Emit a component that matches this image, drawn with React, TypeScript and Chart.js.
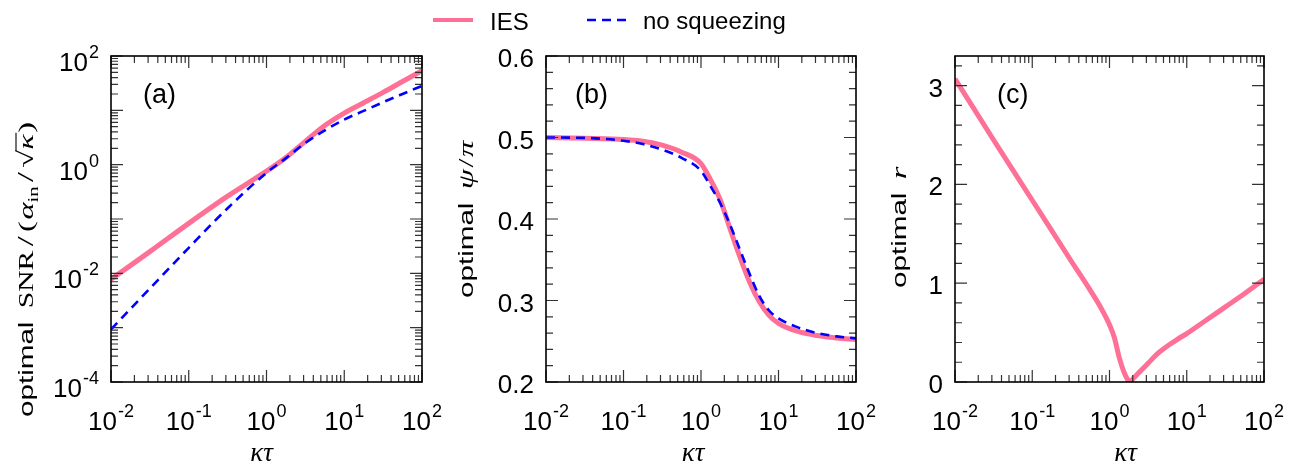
import React, { useEffect, useRef } from 'react';
import { Chart, registerables } from 'chart.js';

Chart.register(...registerables);

const W = 1314;
const H = 466;
const SANS = '"Liberation Sans", Arial, Helvetica, sans-serif';
const SERIF = '"Liberation Serif", "Times New Roman", serif';
const PINK = '#ff7096';
const BLUE = '#0000ff';

// ---------- Panel (a): optimal SNR ----------
const xA = [0.01, 0.0316, 0.1, 0.316, 1, 1.78, 3.16, 5.62, 10, 17.8, 31.6, 56.2, 100];
const snrIES = [0.00776, 0.0251, 0.0832, 0.263, 0.76, 1.35, 2.69, 5.25, 8.91, 13.8, 21.4, 33.9, 53.7];
const snrNoSq = [0.000933, 0.00525, 0.0295, 0.158, 0.708, 1.32, 2.51, 4.27, 6.76, 9.77, 14.1, 20.0, 28.2];

// ---------- Panel (b): optimal psi/pi ----------
const xB = [0.01, 0.0316, 0.1, 0.178, 0.316, 0.562, 1, 1.33, 1.78, 2.37, 3.16, 4.22, 5.62, 7.5, 10, 17.8, 31.6, 56.2, 100];
const psiIES = [0.5, 0.499, 0.4976, 0.4955, 0.4906, 0.482, 0.468, 0.448, 0.423, 0.388, 0.354, 0.323, 0.299, 0.282, 0.272, 0.262, 0.257, 0.254, 0.252];
const psiNoSq = [0.5, 0.4995, 0.496, 0.492, 0.485, 0.475, 0.459, 0.44, 0.419, 0.393, 0.363, 0.333, 0.306, 0.288, 0.278, 0.267, 0.26, 0.256, 0.2535];

// ---------- Panel (c): optimal r ----------
const xC = [0.01, 0.0316, 0.1, 0.316, 0.562, 0.75, 1, 1.155, 1.334, 1.54, 1.7, 1.81, 2.054, 2.371, 3.162, 4.217, 5.623, 7.499, 10, 17.78, 31.62, 56.23, 100];
const rIES = [3.07, 2.45, 1.84, 1.23, 0.93, 0.77, 0.58, 0.45, 0.25, 0.1, 0.03, 0.0, 0.04, 0.09, 0.19, 0.29, 0.365, 0.43, 0.49, 0.625, 0.76, 0.895, 1.04];

// ---------- tick labels / texts ----------
const xTickExps = [-2, -1, 0, 1, 2];
const yTickExpsA = [-4, -2, 0, 2];
const yTicksB = [0.2, 0.3, 0.4, 0.5, 0.6];
const yTicksC = [0, 1, 2, 3];
const legendLabels = ['IES', 'no squeezing'];
const panelLabels = ['(a)', '(b)', '(c)'];

const TITLE_SX = 1.48;

function drawPow(ctx: any, exp: number, x: number, y: number, align: string) {
  const baseFont = `26px ${SANS}`;
  const expFont = `18px ${SANS}`;
  const es = String(exp);
  ctx.font = baseFont;
  const wb = ctx.measureText('10').width;
  ctx.font = expFont;
  const we = ctx.measureText(es).width;
  const total = wb + 1 + we;
  const x0 = align === 'center' ? x - total / 2 : x - total;
  ctx.textAlign = 'left';
  ctx.textBaseline = 'alphabetic';
  ctx.fillStyle = '#000';
  ctx.font = baseFont;
  ctx.fillText('10', x0, y);
  ctx.font = expFont;
  ctx.fillText(es, x0 + wb + 1, y - 13);
}

function drawYTitle(ctx: any, pieces: any[], baseX: number, startY: number) {
  ctx.save();
  ctx.translate(baseX, startY);
  ctx.rotate(-Math.PI / 2);
  ctx.scale(TITLE_SX, 1);
  ctx.fillStyle = '#000';
  ctx.strokeStyle = '#000';
  ctx.textAlign = 'left';
  ctx.textBaseline = 'alphabetic';
  let cx = 0;
  for (const p of pieces) {
    cx += p.pre || 0;
    ctx.font = p.f;
    ctx.fillText(p.t, cx, p.dy || 0);
    const w = ctx.measureText(p.t).width;
    if (p.over) {
      ctx.lineWidth = 1.1;
      ctx.beginPath();
      ctx.moveTo(cx - 1, -p.over);
      ctx.lineTo(cx + w + 1, -p.over);
      ctx.stroke();
    }
    cx += w + (p.post || 0);
  }
  ctx.restore();
}

const framePlugin = {
  id: 'frame',
  afterDraw(chart: any, _args: any, o: any) {
    const ctx = chart.ctx;
    const { left, right, top, bottom } = chart.chartArea;
    const xs = chart.scales.x;
    const ys = chart.scales.y;
    const MAJ = 12;
    const MIN = 7;
    ctx.save();
    ctx.strokeStyle = '#333';
    ctx.lineWidth = 1.2;
    ctx.beginPath();
    const vTick = (px: number, len: number) => {
      ctx.moveTo(px, bottom);
      ctx.lineTo(px, bottom - len);
      ctx.moveTo(px, top);
      ctx.lineTo(px, top + len);
    };
    const hTick = (py: number, len: number) => {
      ctx.moveTo(left, py);
      ctx.lineTo(left + len, py);
      ctx.moveTo(right, py);
      ctx.lineTo(right - len, py);
    };
    for (let e = -2; e <= 2; e++) {
      const v = Math.pow(10, e);
      vTick(xs.getPixelForValue(v), MAJ);
      if (e < 2) for (let m = 2; m <= 9; m++) vTick(xs.getPixelForValue(m * v), MIN);
    }
    if (o.yLog) {
      for (let e = o.yExpMin; e <= o.yExpMax; e++) {
        const v = Math.pow(10, e);
        hTick(ys.getPixelForValue(v), MAJ);
        if (e < o.yExpMax) for (let m = 2; m <= 9; m++) hTick(ys.getPixelForValue(m * v), MIN);
      }
    } else {
      const n = Math.floor((o.yMax - o.yMin) / o.yMinor + 1e-9);
      for (let i = 0; i <= n; i++) {
        const v = o.yMin + i * o.yMinor;
        const r = v / o.yMajor;
        const isMaj = Math.abs(r - Math.round(r)) < 1e-6;
        hTick(ys.getPixelForValue(v), isMaj ? MAJ : MIN);
      }
    }
    ctx.stroke();

    // frame
    ctx.strokeStyle = '#000';
    ctx.lineWidth = 1.6;
    ctx.strokeRect(left, top, right - left, bottom - top);

    // x tick labels
    for (const e of xTickExps) {
      drawPow(ctx, e, xs.getPixelForValue(Math.pow(10, e)), bottom + 48, 'center');
    }
    // y tick labels
    if (o.yLog) {
      for (const e of o.yLabels) {
        const py = ys.getPixelForValue(Math.pow(10, e));
        drawPow(ctx, e, left - 12, py + 15, 'right');
      }
    } else {
      ctx.font = `26px ${SANS}`;
      ctx.fillStyle = '#000';
      ctx.textAlign = 'right';
      ctx.textBaseline = 'alphabetic';
      for (const v of o.yLabels) {
        const py = ys.getPixelForValue(v);
        ctx.fillText(o.yDigits ? v.toFixed(o.yDigits) : String(v), left - 12, py + 11);
      }
    }

    // x title
    ctx.font = `italic 27px ${SERIF}`;
    ctx.fillStyle = '#000';
    ctx.textAlign = 'center';
    ctx.textBaseline = 'alphabetic';
    ctx.fillText('κτ', (left + right) / 2 + o.xTitleDx, H - 5);

    // panel label
    ctx.font = `27px ${SANS}`;
    ctx.textAlign = 'left';
    ctx.fillText(o.panel, left + o.panelDx, top + 46.5);

    // y title
    drawYTitle(ctx, o.yTitle, o.yTitleX, o.yTitleY);

    // legend
    if (o.legend) {
      const ds = chart.data.datasets;
      const ies = ds.find((d: any) => d.label === legendLabels[0]);
      const nsq = ds.find((d: any) => d.label === legendLabels[1]);
      ctx.lineCap = 'butt';
      ctx.strokeStyle = ies.borderColor;
      ctx.lineWidth = 4;
      ctx.beginPath();
      ctx.moveTo(433, 20);
      ctx.lineTo(473, 20);
      ctx.stroke();
      ctx.strokeStyle = nsq.borderColor;
      ctx.lineWidth = nsq.borderWidth;
      ctx.setLineDash(nsq.borderDash);
      ctx.beginPath();
      ctx.moveTo(587, 20);
      ctx.lineTo(629, 20);
      ctx.stroke();
      ctx.setLineDash([]);
      ctx.font = `24px ${SANS}`;
      ctx.fillStyle = '#000';
      ctx.textAlign = 'left';
      ctx.fillText(legendLabels[0], 490, 30);
      ctx.fillText(legendLabels[1], 643, 29);
    }
    ctx.restore();
  },
};

function pts(xs: number[], ys: number[]) {
  return xs.map((x, i) => ({ x, y: ys[i] }));
}

function iesSet(data: any[]) {
  return {
    label: legendLabels[0],
    data,
    borderColor: PINK,
    backgroundColor: PINK,
    borderWidth: 5,
    pointRadius: 0,
    fill: false,
    cubicInterpolationMode: 'monotone',
    order: 1,
  };
}

function nsqSet(data: any[]) {
  return {
    label: legendLabels[1],
    data,
    borderColor: BLUE,
    backgroundColor: BLUE,
    borderWidth: 2.6,
    borderDash: [9, 6],
    pointRadius: 0,
    fill: false,
    cubicInterpolationMode: 'monotone',
    order: 0,
  };
}

function makeChart(canvas: HTMLCanvasElement, datasets: any[], yScale: any, area: any, frame: any) {
  return new Chart(canvas, {
    type: 'line',
    data: { datasets },
    options: {
      responsive: false,
      maintainAspectRatio: false,
      animation: false,
      layout: {
        padding: { left: area.left, right: W - area.right, top: area.top, bottom: H - area.bottom },
      },
      scales: {
        x: { type: 'logarithmic', min: 0.01, max: 100, display: false },
        y: { ...yScale, display: false },
      },
      plugins: {
        legend: { display: false },
        tooltip: { enabled: false },
        frame,
      } as any,
    },
    plugins: [framePlugin],
  } as any);
}

const mathSize = 22;

const titleA = [
  { t: 'optimal', f: `20px ${SANS}`, post: 9 },
  { t: 'SNR', f: `20px ${SERIF}` },
  { t: '/', f: `24px ${SERIF}`, pre: 3, post: 3 },
  { t: '(', f: `${mathSize}px ${SERIF}`, post: 1 },
  { t: 'α', f: `italic ${mathSize}px ${SERIF}` },
  { t: 'in', f: `14px ${SERIF}`, dy: 5 },
  { t: '/', f: `24px ${SERIF}`, pre: 3, post: 3 },
  { t: '√', f: `${mathSize}px ${SERIF}` },
  { t: 'κ', f: `italic ${mathSize}px ${SERIF}`, over: 17, post: 1 },
  { t: ')', f: `${mathSize}px ${SERIF}` },
];
const titleB = [
  { t: 'optimal', f: `20px ${SANS}`, post: 9 },
  { t: 'ψ', f: `italic ${mathSize}px ${SERIF}` },
  { t: '/', f: `${mathSize}px ${SERIF}`, pre: 1, post: 1 },
  { t: 'π', f: `italic ${mathSize}px ${SERIF}` },
];
const titleC = [
  { t: 'optimal', f: `20px ${SANS}`, post: 9 },
  { t: 'r', f: `italic ${mathSize}px ${SERIF}` },
];

export default function App() {
  const refA = useRef<HTMLCanvasElement>(null);
  const refB = useRef<HTMLCanvasElement>(null);
  const refC = useRef<HTMLCanvasElement>(null);

  useEffect(() => {
    const charts: Chart[] = [];
    charts.push(
      makeChart(
        refA.current!,
        [iesSet(pts(xA, snrIES)), nsqSet(pts(xA, snrNoSq))],
        { type: 'logarithmic', min: 1e-4, max: 100 },
        { left: 111, right: 422, top: 56, bottom: 382 },
        {
          yLog: true, yExpMin: -4, yExpMax: 2, yLabels: yTickExpsA,
          panel: panelLabels[0], panelDx: 32, xTitleDx: -5,
          yTitle: titleA, yTitleX: 33, yTitleY: 417, legend: true,
        }
      )
    );
    charts.push(
      makeChart(
        refB.current!,
        [iesSet(pts(xB, psiIES)), nsqSet(pts(xB, psiNoSq))],
        { type: 'linear', min: 0.2, max: 0.6 },
        { left: 546, right: 856, top: 56, bottom: 382 },
        {
          yLog: false, yMin: 0.2, yMax: 0.6, yMajor: 0.1, yMinor: 0.02, yLabels: yTicksB, yDigits: 1,
          panel: panelLabels[1], panelDx: 29, xTitleDx: -8,
          yTitle: titleB, yTitleX: 473, yTitleY: 298,
        }
      )
    );
    charts.push(
      makeChart(
        refC.current!,
        [iesSet(pts(xC, rIES))],
        { type: 'linear', min: 0, max: 3.3 },
        { left: 955, right: 1264, top: 56, bottom: 382 },
        {
          yLog: false, yMin: 0, yMax: 3.3, yMajor: 1, yMinor: 0.2, yLabels: yTicksC, yDigits: 0,
          panel: panelLabels[2], panelDx: 42, xTitleDx: 16,
          yTitle: titleC, yTitleX: 906, yTitleY: 288,
        }
      )
    );
    return () => charts.forEach((c) => c.destroy());
  }, []);

  const cs: React.CSSProperties = { position: 'absolute', left: 0, top: 0, width: W, height: H };
  return (
    <div style={{ position: 'fixed', left: 0, top: 0, width: W, height: H, background: '#fff', overflow: 'hidden' }}>
      <canvas ref={refA} width={W} height={H} style={cs} />
      <canvas ref={refB} width={W} height={H} style={cs} />
      <canvas ref={refC} width={W} height={H} style={cs} />
    </div>
  );
}
